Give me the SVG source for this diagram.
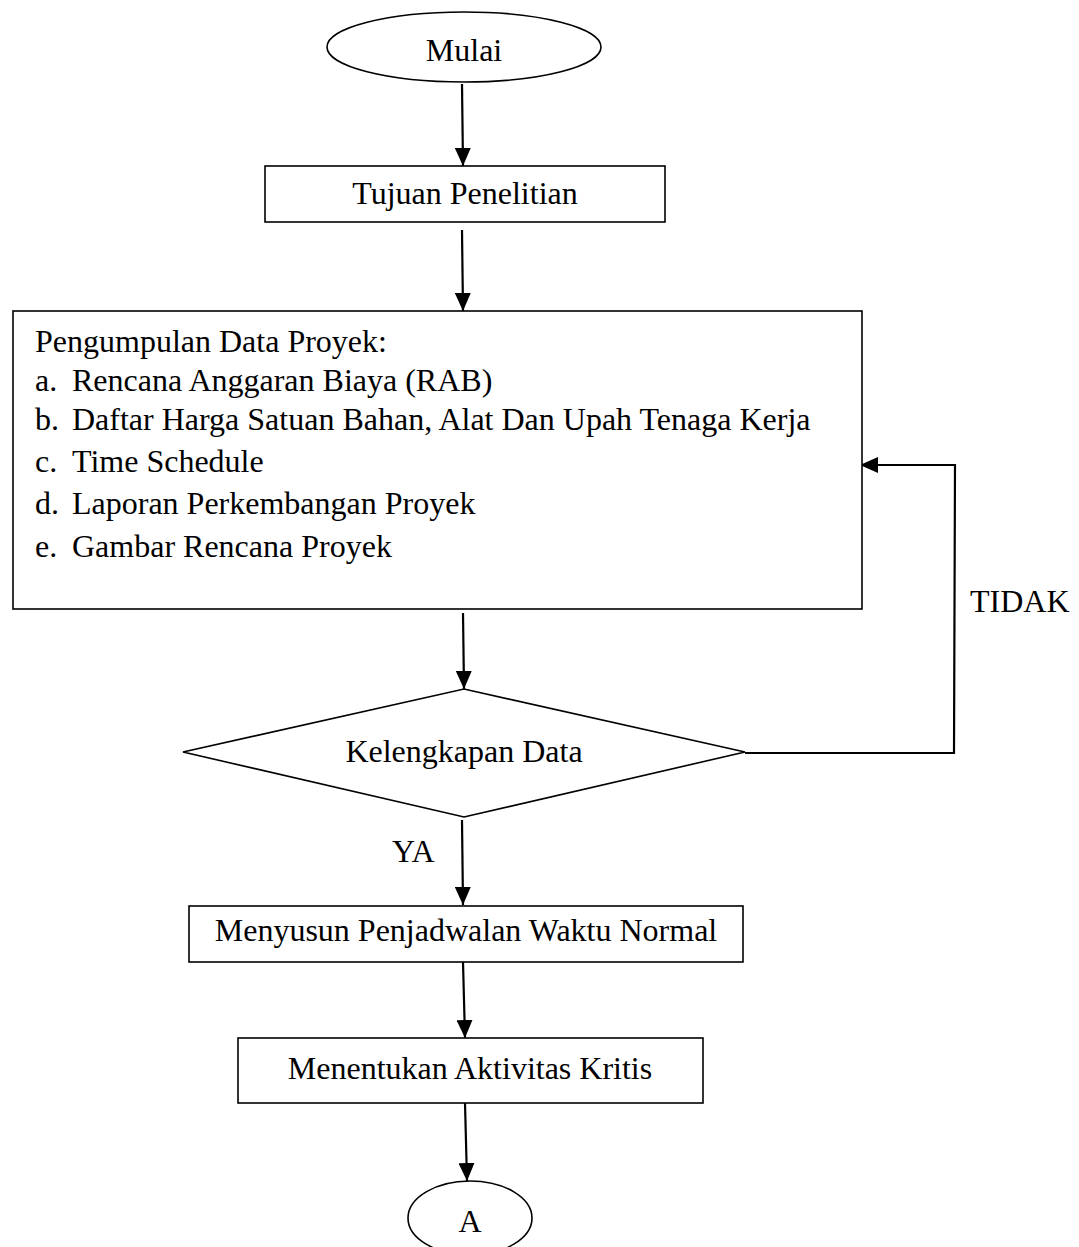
<svg xmlns="http://www.w3.org/2000/svg" width="1079" height="1247" viewBox="0 0 1079 1247">
<defs>
<style>
.shape{fill:#fff;stroke:#000;stroke-width:1.6}
.t{font-family:"Liberation Serif","Times New Roman",serif;font-size:32px;fill:#000}
.c{text-anchor:middle}
.conn{fill:none;stroke:#000;stroke-width:2.2}
</style>
<marker id="ah" markerUnits="userSpaceOnUse" markerWidth="18" markerHeight="16" refX="18" refY="8" orient="auto">
<path d="M0,0 L18,8 L0,16 z" fill="#000"/>
</marker>
</defs>
<rect width="1079" height="1247" fill="#fff"/>
<g id="connectors">
<line class="conn" x1="462" y1="84" x2="463" y2="166" marker-end="url(#ah)"/>
<line class="conn" x1="462" y1="230" x2="463" y2="311" marker-end="url(#ah)"/>
<line class="conn" x1="463" y1="613" x2="464" y2="689" marker-end="url(#ah)"/>
<line class="conn" x1="462" y1="820" x2="463" y2="905" marker-end="url(#ah)"/>
<line class="conn" x1="463" y1="962" x2="465" y2="1038" marker-end="url(#ah)"/>
<line class="conn" x1="465" y1="1103" x2="467" y2="1181" marker-end="url(#ah)"/>
<polyline class="conn" points="745,753 954,753 955,465 860,465" marker-end="url(#ah)"/>
<text class="t" x="392" y="862">YA</text>
<text class="t" x="970" y="612">TIDAK</text>
</g>
<g id="mulai">
<ellipse class="shape" cx="464" cy="47" rx="137" ry="35"/>
<text class="t c" x="464" y="61">Mulai</text>
</g>
<g id="tujuan">
<rect class="shape" x="265" y="166" width="400" height="56"/>
<text class="t c" x="465" y="204">Tujuan Penelitian</text>
</g>
<g id="pengumpulan">
<rect class="shape" x="13" y="311" width="849" height="298"/>
<text class="t" x="35" y="352">Pengumpulan Data Proyek:</text>
<text class="t" x="35" y="391">a.</text><text class="t" x="72" y="391">Rencana Anggaran Biaya (RAB)</text>
<text class="t" x="35" y="430">b.</text><text class="t" x="72" y="430">Daftar Harga Satuan Bahan, Alat Dan Upah Tenaga Kerja</text>
<text class="t" x="35" y="472">c.</text><text class="t" x="72" y="472">Time Schedule</text>
<text class="t" x="35" y="514">d.</text><text class="t" x="72" y="514">Laporan Perkembangan Proyek</text>
<text class="t" x="35" y="557">e.</text><text class="t" x="72" y="557">Gambar Rencana Proyek</text>
</g>
<g id="kelengkapan">
<polygon class="shape" points="183,752 464,689 745,752 464,817"/>
<text class="t c" x="464" y="762">Kelengkapan Data</text>
</g>
<g id="menyusun">
<rect class="shape" x="189" y="906" width="554" height="56"/>
<text class="t c" x="466" y="941">Menyusun Penjadwalan Waktu Normal</text>
</g>
<g id="menentukan">
<rect class="shape" x="238" y="1038" width="465" height="65"/>
<text class="t c" x="470" y="1079">Menentukan Aktivitas Kritis</text>
</g>
<g id="a">
<ellipse class="shape" cx="470" cy="1218" rx="62" ry="37"/>
<text class="t c" x="470" y="1232">A</text>
</g>
</svg>
